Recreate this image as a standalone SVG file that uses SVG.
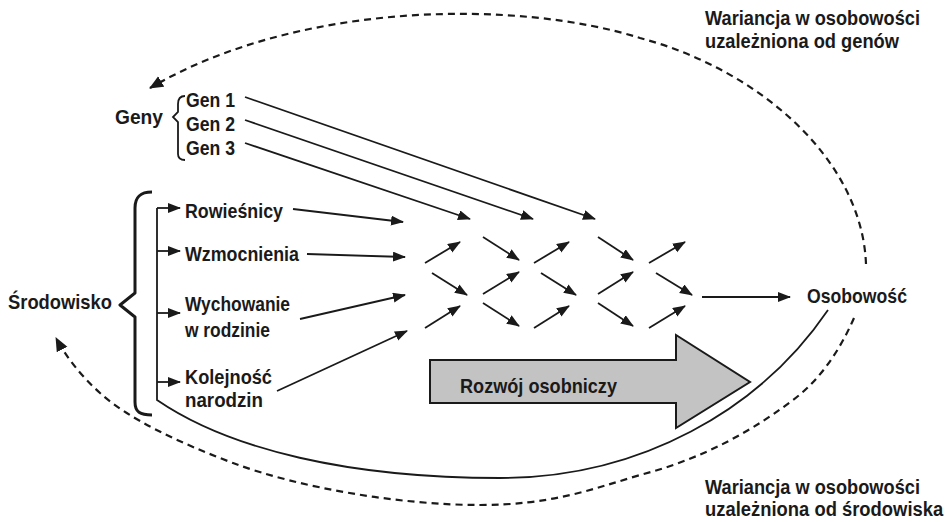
<svg xmlns="http://www.w3.org/2000/svg" width="948" height="522" viewBox="0 0 948 522">
<defs>
<style>
text{font-family:"Liberation Sans Narrow","Liberation Sans",Arial,sans-serif;font-weight:bold;font-size:21px;fill:#1a1a1a}
.ln{fill:none;stroke:#1a1a1a;stroke-width:1.8}
.ar{fill:none;stroke:#1a1a1a;stroke-width:1.8;marker-end:url(#ah)}
.da{fill:none;stroke:#1a1a1a;stroke-width:2.2;stroke-dasharray:7 5;marker-end:url(#dh)}
</style>
<marker id="ah" markerUnits="userSpaceOnUse" markerWidth="14" markerHeight="12" refX="12" refY="5" orient="auto">
<path d="M0,0 L13,5 L0,10 z" fill="#1a1a1a"/>
</marker>
<marker id="dh" markerUnits="userSpaceOnUse" markerWidth="16" markerHeight="14" refX="13" refY="6" orient="auto">
<path d="M0,0 L14,6 L0,12 z" fill="#1a1a1a"/>
</marker>
</defs>
<rect width="948" height="522" fill="#fff"/>

<g id="connectors">
<path class="da" d="M866,264 C 862,160 760,70 640,38 C 520,0 300,0 150,88"/>
<path class="da" d="M854,318 C 840,350 820,380 793,400 C 740,440 690,462 640,475 C 590,490 550,505 480,505 C 400,505 300,488 233,463 C 180,443 130,420 100,393 C 80,375 65,355 56,338"/>
<path class="ln" d="M157,208 L157,400 C 230,450 350,478 500,478 C 640,478 760,410 828,310"/>
<path class="ar" d="M157,208 H180"/>
<path class="ar" d="M157,251 H180"/>
<path class="ar" d="M157,313 H180"/>
<path class="ar" d="M157,382 H180"/>
<path class="ar" d="M245,97 L595,219"/>
<path class="ar" d="M245,120 L533,219"/>
<path class="ar" d="M245,143 L470,219"/>
<path class="ar" d="M293,209 L403,222"/>
<path class="ar" d="M307,254 L405,257"/>
<path class="ar" d="M300,319 L405,295"/>
<path class="ar" d="M277,391 L407,331"/>
<path class="ar" d="M425,263 L460,242"/>
<path class="ar" d="M432,273 L467,295"/>
<path class="ar" d="M425,328 L460,306"/>
<path class="ar" d="M483,237 L519,260"/>
<path class="ar" d="M483,294 L519,272"/>
<path class="ar" d="M483,303 L519,326"/>
<path class="ar" d="M534,263 L569,242"/>
<path class="ar" d="M541,273 L576,295"/>
<path class="ar" d="M534,328 L569,306"/>
<path class="ar" d="M598,237 L633,260"/>
<path class="ar" d="M598,294 L633,272"/>
<path class="ar" d="M598,303 L633,326"/>
<path class="ar" d="M649,263 L685,242"/>
<path class="ar" d="M656,273 L692,295"/>
<path class="ar" d="M649,328 L685,306"/>
<path class="ar" d="M702,297 L790,297"/>
</g>

<g id="wariancja-geny">
<text transform="translate(705,25) scale(0.86,1)" x="0" y="0" textLength="250" lengthAdjust="spacingAndGlyphs">Wariancja w osobowości</text>
<text x="705" y="48" textLength="194" lengthAdjust="spacingAndGlyphs">uzależniona od genów</text>
</g>
<g id="wariancja-srodowisko">
<text transform="translate(705,494) scale(0.86,1)" x="0" y="0" textLength="250" lengthAdjust="spacingAndGlyphs">Wariancja w osobowości</text>
<text transform="translate(705,516) scale(0.86,1)" x="0" y="0" textLength="277" lengthAdjust="spacingAndGlyphs">uzależniona od środowiska</text>
</g>

<g id="geny">
<text x="115" y="124" textLength="48" lengthAdjust="spacingAndGlyphs">Geny</text>
<path class="ln" stroke-width="1.5" d="M185,96 C 180,96 178,99 178,104 L178,112 L173,117 L178,122 L178,154 C 178,158 180,160 185,160"/>
</g>
<g id="gen1"><text x="186" y="107" textLength="49" lengthAdjust="spacingAndGlyphs">Gen 1</text></g>
<g id="gen2"><text x="186" y="131" textLength="49" lengthAdjust="spacingAndGlyphs">Gen 2</text></g>
<g id="gen3"><text x="186" y="155" textLength="49" lengthAdjust="spacingAndGlyphs">Gen 3</text></g>

<g id="srodowisko">
<text x="8" y="309" textLength="104" lengthAdjust="spacingAndGlyphs">Środowisko</text>
<path fill="none" stroke="#1a1a1a" stroke-width="3" stroke-linejoin="round" d="M152,192 C 140,192 135,197 135,208 L135,293 L120,305 L135,317 L135,402 C 135,412 140,415 152,415"/>
</g>
<g id="rowiesnicy"><text x="185" y="218" textLength="98" lengthAdjust="spacingAndGlyphs">Rowieśnicy</text></g>
<g id="wzmocnienia"><text x="185" y="261" textLength="114" lengthAdjust="spacingAndGlyphs">Wzmocnienia</text></g>
<g id="wychowanie">
<text x="185" y="311" textLength="105" lengthAdjust="spacingAndGlyphs">Wychowanie</text>
<text x="185" y="337" textLength="85" lengthAdjust="spacingAndGlyphs">w rodzinie</text>
</g>
<g id="kolejnosc">
<text x="185" y="384" textLength="87" lengthAdjust="spacingAndGlyphs">Kolejność</text>
<text x="185" y="407" textLength="78" lengthAdjust="spacingAndGlyphs">narodzin</text>
</g>

<g id="rozwoj">
<path d="M430,360 H676 V335 L750,382 L676,428 V403 H430 Z" fill="#c3c3c3" stroke="#1a1a1a" stroke-width="2"/>
<text x="460" y="393" textLength="157" lengthAdjust="spacingAndGlyphs">Rozwój osobniczy</text>
</g>

<g id="osobowosc"><text x="807" y="303" textLength="100" lengthAdjust="spacingAndGlyphs">Osobowość</text></g>
</svg>
